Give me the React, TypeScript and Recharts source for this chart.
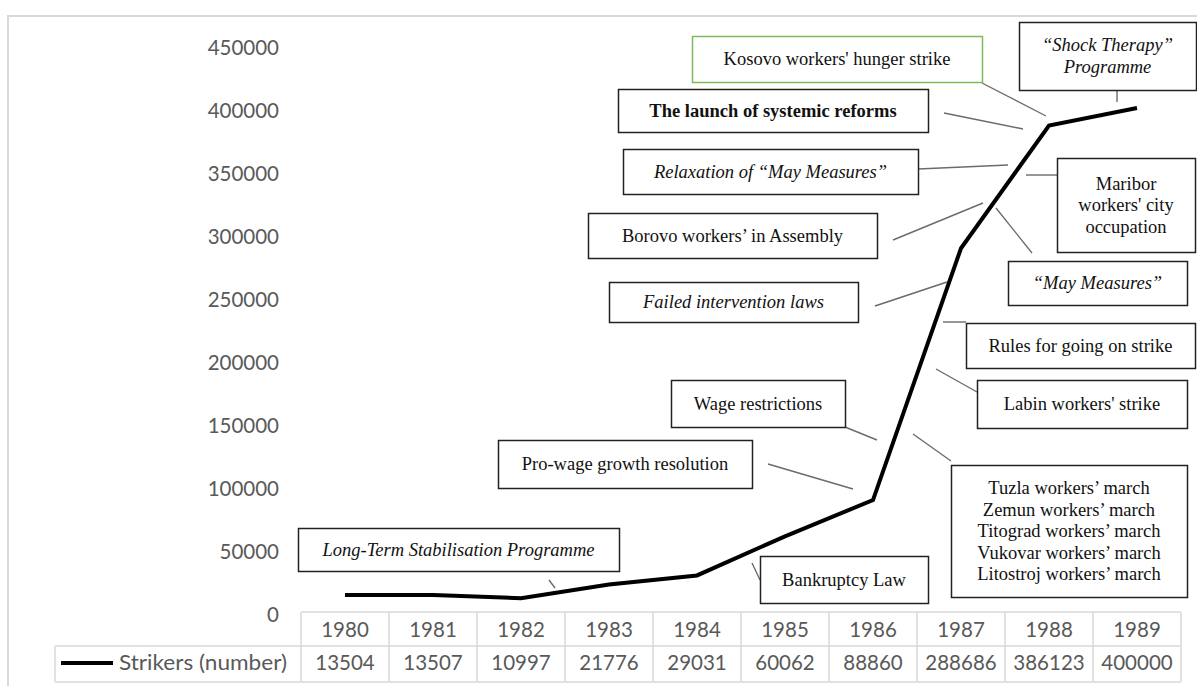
import React from 'react';
import { LineChart, Line, XAxis, YAxis } from 'recharts';

const YEARS = ['1980', '1981', '1982', '1983', '1984', '1985', '1986', '1987', '1988', '1989'];
const STRIKERS = [13504, 13507, 10997, 21776, 29031, 60062, 88860, 288686, 386123, 400000];
const Y_TICKS = [0, 50000, 100000, 150000, 200000, 250000, 300000, 350000, 400000, 450000];
const SERIES_NAME = 'Strikers (number)';

const ANNOTATION_TEXTS = [
  ['Kosovo workers\' hunger strike'],
  ['The launch of systemic reforms'],
  ['Relaxation of \u201cMay Measures\u201d'],
  ['Borovo workers\u2019 in Assembly'],
  ['Failed intervention laws'],
  ['Wage restrictions'],
  ['Pro-wage growth resolution'],
  ['Long-Term Stabilisation Programme'],
  ['Bankruptcy Law'],
  ['\u201cShock Therapy\u201d', 'Programme'],
  ['Maribor', 'workers\' city', 'occupation'],
  ['\u201cMay Measures\u201d'],
  ['Rules for going on strike'],
  ['Labin workers\' strike'],
  ['Tuzla workers\u2019 march', 'Zemun workers\u2019 march', 'Titograd workers\u2019 march', 'Vukovar workers\u2019 march', 'Litostroj workers\u2019 march'],
];

// layout of annotation boxes: [x, y, w, h, style, connector x1, y1, x2, y2]
const ANNOTATION_LAYOUT: Array<[number, number, number, number, string, number, number, number, number]> = [
  [692, 36, 290, 46, 'green', 982, 83, 1046, 116],
  [618, 89, 310, 43, 'bold', 944, 113, 1023, 129],
  [623, 149, 295, 45, 'italic', 918, 169, 1008, 165],
  [588, 213, 289, 45, 'normal', 893, 240, 983, 203],
  [609, 282, 249, 40, 'italic', 875, 306, 947, 282],
  [671, 380, 174, 47, 'normal', 845, 427, 877, 440],
  [498, 440, 254, 48, 'normal', 768, 464, 853, 489],
  [298, 528, 321, 43, 'italic', 549, 580, 555, 588],
  [760, 556, 168, 47, 'normal', 752, 563, 760, 580],
  [1019, 22, 177, 68, 'italic', 1117, 90, 1117, 102],
  [1057, 158, 138, 94, 'normal', 1026, 175, 1057, 175],
  [1008, 261, 179, 44, 'italic', 996, 208, 1032, 253],
  [966, 323, 229, 45, 'normal', 943, 322, 966, 322],
  [977, 380, 210, 48, 'normal', 936, 369, 977, 392],
  [951, 465, 236, 132, 'normal', 913, 434, 951, 461],
];

const data = YEARS.map((year, i) => ({ year, strikers: STRIKERS[i] }));

const TABLE_FONT = 'Lato, "Open Sans", sans-serif';
const SERIF = '"Liberation Serif", "Times New Roman", serif';
const GREY_TEXT = '#595959';
const GRID = '#d9d9d9';
const COL_W = 88;
const ROW1 = 34;
const ROW2 = 36;

const YTick = (props: any) => {
  const { y, payload } = props;
  return (
    <text x={279} y={y} dy={10} textAnchor="end" fill={GREY_TEXT} fontFamily={TABLE_FONT} fontSize={20.5}>
      {payload.value}
    </text>
  );
};

const TableTick = (props: any) => {
  const { x, y, payload, index } = props;
  const left = x - COL_W / 2;
  const right = x + COL_W / 2;
  const top = y;
  return (
    <g>
      {index === 0 && (
        <g>
          <line x1={55} y1={top + ROW1} x2={left} y2={top + ROW1} stroke={GRID} strokeWidth={1.5} />
          <line x1={55} y1={top + ROW1 + ROW2} x2={left} y2={top + ROW1 + ROW2} stroke={GRID} strokeWidth={1.5} />
          <line x1={55} y1={top + ROW1} x2={55} y2={top + ROW1 + ROW2} stroke={GRID} strokeWidth={1.5} />
          <line x1={61} y1={top + ROW1 + 17} x2={113} y2={top + ROW1 + 17} stroke="#000" strokeWidth={4} />
          <text x={119} y={top + ROW1 + 24} fill={GREY_TEXT} fontFamily={TABLE_FONT} fontSize={21} textLength={168} lengthAdjust="spacingAndGlyphs">
            {SERIES_NAME}
          </text>
          <line x1={left} y1={top} x2={left} y2={top + ROW1 + ROW2} stroke={GRID} strokeWidth={1.5} />
        </g>
      )}
      <line x1={left} y1={top} x2={right} y2={top} stroke={GRID} strokeWidth={1.5} />
      <line x1={left} y1={top + ROW1} x2={right} y2={top + ROW1} stroke={GRID} strokeWidth={1.5} />
      <line x1={left} y1={top + ROW1 + ROW2} x2={right} y2={top + ROW1 + ROW2} stroke={GRID} strokeWidth={1.5} />
      <line x1={right} y1={top} x2={right} y2={top + ROW1 + ROW2} stroke={GRID} strokeWidth={1.5} />
      <text x={x} y={top + 25} textAnchor="middle" fill={GREY_TEXT} fontFamily={TABLE_FONT} fontSize={20.5}>
        {payload.value}
      </text>
      <text x={x} y={top + ROW1 + 24} textAnchor="middle" fill={GREY_TEXT} fontFamily={TABLE_FONT} fontSize={20.5}>
        {STRIKERS[index]}
      </text>
    </g>
  );
};

const Annotations = () => (
  <svg width={1197} height={686} style={{ position: 'absolute', left: 0, top: 0, pointerEvents: 'none' }}>
    <line x1={7} y1={16} x2={1197} y2={16} stroke={GRID} strokeWidth={2} />
    <line x1={8} y1={16} x2={8} y2={686} stroke={GRID} strokeWidth={2} />
    {ANNOTATION_LAYOUT.map((l, i) => {
      const [x, y, w, h, style, x1, y1, x2, y2] = l;
      const lines = ANNOTATION_TEXTS[i];
      const lh = 21.5;
      const cy = y + h / 2;
      const startY = cy - ((lines.length - 1) * lh) / 2 + 6;
      return (
        <g key={i}>
          <line x1={x1} y1={y1} x2={x2} y2={y2} stroke="#6b6b6b" strokeWidth={1.4} />
          <rect x={x + 0.5} y={y + 0.5} width={w} height={h} fill="#fff" stroke={style === 'green' ? '#7fba5a' : '#222'} strokeWidth={1.5} />
          {lines.map((t, j) => (
            <text
              key={j}
              x={x + w / 2}
              y={startY + j * lh}
              textAnchor="middle"
              fontFamily={SERIF}
              fontSize={18.5}
              fontStyle={style === 'italic' ? 'italic' : 'normal'}
              fontWeight={style === 'bold' ? 'bold' : 'normal'}
              fill="#111"
            >
              {t}
            </text>
          ))}
        </g>
      );
    })}
  </svg>
);

export default function App() {
  return (
    <div style={{ position: 'absolute', left: 0, top: 0, width: 1197, height: 686, background: '#fff' }}>
      <LineChart width={1197} height={686} data={data} margin={{ top: 45, right: 16, bottom: 0, left: 0 }}>
        <XAxis
          dataKey="year"
          height={74}
          axisLine={false}
          tickLine={false}
          tickSize={0}
          tickMargin={0}
          interval={0}
          padding={{ left: 44, right: 44 }}
          tick={<TableTick />}
        />
        <YAxis
          width={301}
          domain={[0, 450000]}
          ticks={Y_TICKS}
          axisLine={false}
          tickLine={false}
          interval={0}
          tick={<YTick />}
        />
        <Line type="linear" dataKey="strikers" stroke="#000" strokeWidth={4} dot={false} isAnimationActive={false} />
      </LineChart>
      <Annotations />
    </div>
  );
}
